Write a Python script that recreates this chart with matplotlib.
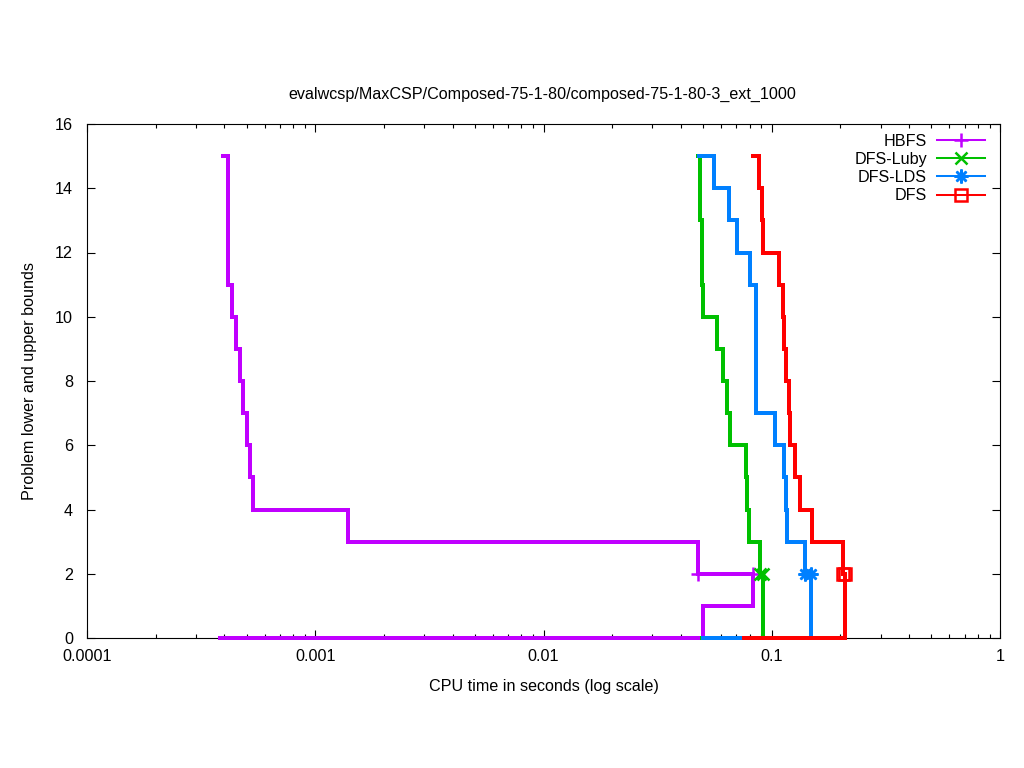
import matplotlib
matplotlib.use('Agg')
import matplotlib.pyplot as plt
from matplotlib.lines import Line2D
from matplotlib.ticker import FixedLocator, FixedFormatter, LogLocator, NullFormatter

plt.rcParams['font.family'] = ['Liberation Sans', 'DejaVu Sans']

title = "evalwcsp/MaxCSP/Composed-75-1-80/composed-75-1-80-3_ext_1000"
solvers = ['HBFS', 'DFS-Luby', 'DFS-LDS', 'DFS']

# upper bounds (time of change, new value)
hbfs_ub_t = [0.000394, 0.0004147, 0.0004319, 0.0004497, 0.0004682, 0.0004827,
             0.0005023, 0.0005177, 0.0005336, 0.001392, 0.04752]
hbfs_ub_v = [15, 11, 10, 9, 8, 7, 6, 5, 4, 3, 2]
hbfs_lb_t = [0.000383, 0.04999, 0.08278]
hbfs_lb_v = [0, 1, 2]

luby_ub_t = [0.04752, 0.0485, 0.0494, 0.0498, 0.05757, 0.0611, 0.0637, 0.0656,
             0.0771, 0.0782, 0.0797, 0.0888]
luby_ub_v = [15, 13, 11, 10, 9, 8, 7, 6, 5, 4, 3, 2]
luby_lb_t = [0.0495, 0.0915]
luby_lb_v = [0, 2]

lds_ub_t = [0.0478, 0.05585, 0.06496, 0.07042, 0.08028, 0.08531, 0.1033, 0.1132,
            0.1155, 0.1166, 0.1398]
lds_ub_v = [15, 14, 13, 12, 11, 7, 6, 5, 4, 3, 2]
lds_lb_t = [0.0500, 0.1486]
lds_lb_v = [0, 2]

dfs_ub_t = [0.0826, 0.0879, 0.0907, 0.0920, 0.1076, 0.1120, 0.1135, 0.1149, 0.1190,
            0.1202, 0.1264, 0.1330, 0.1501, 0.2052]
dfs_ub_v = [15, 14, 13, 12, 11, 10, 9, 8, 7, 6, 5, 4, 3, 2]
dfs_lb_t = [0.0756, 0.2094]
dfs_lb_v = [0, 2]

data = [
    (hbfs_ub_t, hbfs_ub_v, hbfs_lb_t, hbfs_lb_v),
    (luby_ub_t, luby_ub_v, luby_lb_t, luby_lb_v),
    (lds_ub_t, lds_ub_v, lds_lb_t, lds_lb_v),
    (dfs_ub_t, dfs_ub_v, dfs_lb_t, dfs_lb_v),
]
colors = ['#c000ff', '#00c000', '#0080ff', '#ff0000']
markers = ['+', 'x', (8, 2, 0), 's']
msizes = [10, 9, 10, 8]

xticks = [0.0001, 0.001, 0.01, 0.1, 1]
xticklabels = ['0.0001', '0.001', '0.01', '0.1', '1']
yticks = [0, 2, 4, 6, 8, 10, 12, 14, 16]

FS = 11.6
fig = plt.figure(figsize=(10.24, 7.68), dpi=100)
ax = fig.add_axes([87/1024, 1-638/768, 913/1024, 514/768])
ax.set_xscale('log')

lw = 1.45
for (ub_t, ub_v, lb_t, lb_v), c, m, ms in zip(data, colors, markers, msizes):
    mkw = dict(marker=m, markersize=ms, markeredgewidth=1.8, color=c,
               markerfacecolor='none', linestyle='none', clip_on=False, zorder=4)
    ax.plot(ub_t + [lb_t[-1]], ub_v + [ub_v[-1]], drawstyle='steps-post',
            color=c, lw=lw, clip_on=False, solid_joinstyle='miter',
            antialiased=False, zorder=3)
    ax.plot(lb_t, lb_v, drawstyle='steps-post', color=c, lw=lw,
            clip_on=False, solid_joinstyle='miter', antialiased=False, zorder=3)
    ax.plot([ub_t[-1]], [ub_v[-1]], **mkw)
    ax.plot([lb_t[-1]], [lb_v[-1]], **mkw)

ax.set_xlim(1e-4, 1)
ax.set_ylim(0, 16)
ax.xaxis.set_major_locator(FixedLocator(xticks))
ax.xaxis.set_major_formatter(FixedFormatter(xticklabels))
ax.xaxis.set_minor_locator(LogLocator(base=10, subs=range(2, 10)))
ax.xaxis.set_minor_formatter(NullFormatter())
ax.yaxis.set_major_locator(FixedLocator(yticks))

ax.tick_params(which='both', direction='in', top=True, right=True,
               labelsize=FS, width=0.8, colors='black')
ax.tick_params(which='major', length=6)
ax.tick_params(which='minor', length=3)
ax.tick_params(axis='x', pad=8)
ax.tick_params(axis='y', pad=10)
for s in ax.spines.values():
    s.set_linewidth(0.8)

ax.set_xlabel('CPU time in seconds (log scale)', fontsize=FS)
ax.xaxis.set_label_coords(0.5, (638-686)/514)
ax.xaxis.label.set_va('center')
ax.set_ylabel('Problem lower and upper bounds', fontsize=FS)
ax.yaxis.set_label_coords((30-87)/913, 0.5)
ax.yaxis.label.set_va('center')
ax.yaxis.label.set_ha('center')

fig.text(542/1024, 1-94/768, title, ha='center', va='center', fontsize=FS)

handles = [Line2D([], [], color=c, lw=lw, marker=m, markersize=ms,
                  markeredgewidth=1.8, markerfacecolor='none', antialiased=False)
           for c, m, ms in zip(colors, markers, msizes)]
ax.legend(handles, solvers, loc='upper right', bbox_to_anchor=((985-87)/913, (638-134)/514),
          frameon=False, markerfirst=False, fontsize=FS, handlelength=3.0,
          handletextpad=0.6, labelspacing=0.19, borderpad=0, borderaxespad=0)

fig.savefig('out.png', dpi=100)
